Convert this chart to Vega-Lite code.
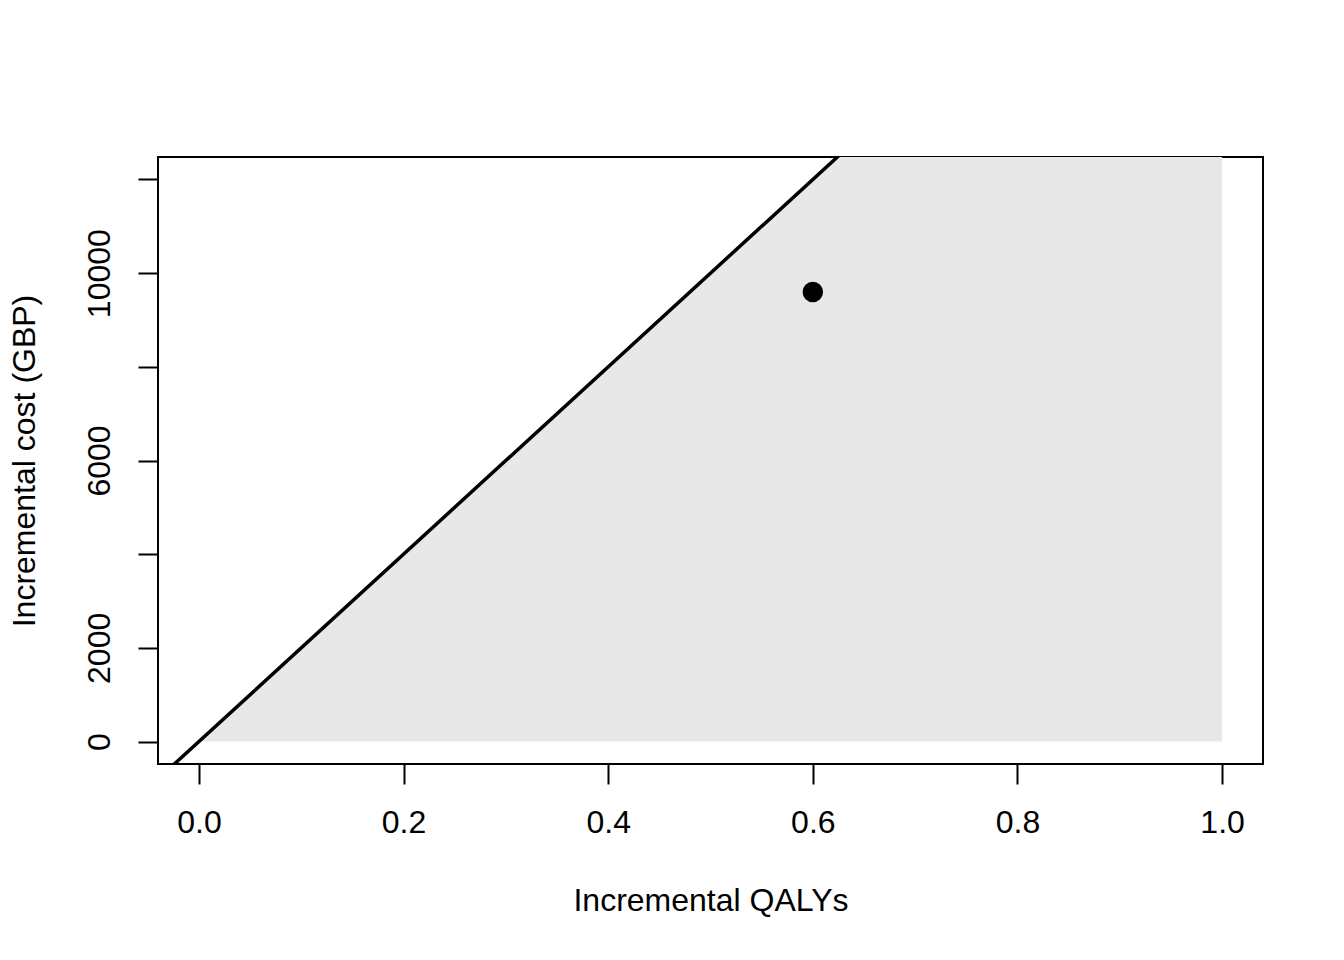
{
  "$schema": "https://vega.github.io/schema/vega-lite/v6.json",
  "width": 1105,
  "height": 607,
  "autosize": {"type": "none"},
  "padding": {"left": 158, "top": 157, "right": 81, "bottom": 196},
  "background": "white",
  "config": {
    "view": {"stroke": "black", "strokeWidth": 2},
    "font": "Liberation Sans",
    "axis": {
      "domain": false,
      "grid": false,
      "tickColor": "black",
      "tickWidth": 2,
      "tickSize": 20,
      "labelColor": "black",
      "labelFont": "Liberation Sans",
      "labelFontSize": 32,
      "titleFont": "Liberation Sans",
      "titleFontSize": 32,
      "titleFontWeight": "normal",
      "titleColor": "black",
      "labelFlush": false,
      "labelOverlap": false,
      "labelBound": false
    }
  },
  "layer": [
    {
      "data": {"values": [{"q": 0, "cost": 0}, {"q": 1, "cost": 20000}]},
      "mark": {"type": "area", "color": "#E8E8E8", "clip": true},
      "encoding": {
        "x": {"field": "q", "type": "quantitative", "scale": {"domain": [-0.04, 1.04], "nice": false, "zero": false},
          "axis": {"values": [0, 0.2, 0.4, 0.6, 0.8, 1.0], "format": ".1f", "title": "Incremental QALYs", "labelPadding": 23, "titlePadding": 47}},
        "y": {"field": "cost", "type": "quantitative", "scale": {"domain": [-480, 12480], "nice": false, "zero": false},
          "axis": {"values": [0, 2000, 4000, 6000, 8000, 10000, 12000], "labelExpr": "indexof([0,2000,6000,10000], datum.value) >= 0 ? datum.label : ''", "format": "d", "labelAngle": -90, "labelAlign": "center", "labelBaseline": "bottom", "labelPadding": 22, "title": "Incremental cost (GBP)", "titlePadding": 42}},
        "y2": {"datum": 0}
      }
    },
    {
      "data": {"values": [{"q": -0.05, "cost": -1000}, {"q": 0.7, "cost": 14000}]},
      "mark": {"type": "line", "color": "black", "strokeWidth": 3.5, "clip": true},
      "encoding": {
        "x": {"field": "q", "type": "quantitative"},
        "y": {"field": "cost", "type": "quantitative"}
      }
    },
    {
      "data": {"values": [{"q": 0.6, "cost": 9600}]},
      "mark": {"type": "point", "filled": true, "color": "black", "size": 420, "opacity": 1},
      "encoding": {
        "x": {"field": "q", "type": "quantitative"},
        "y": {"field": "cost", "type": "quantitative"}
      }
    }
  ]
}
